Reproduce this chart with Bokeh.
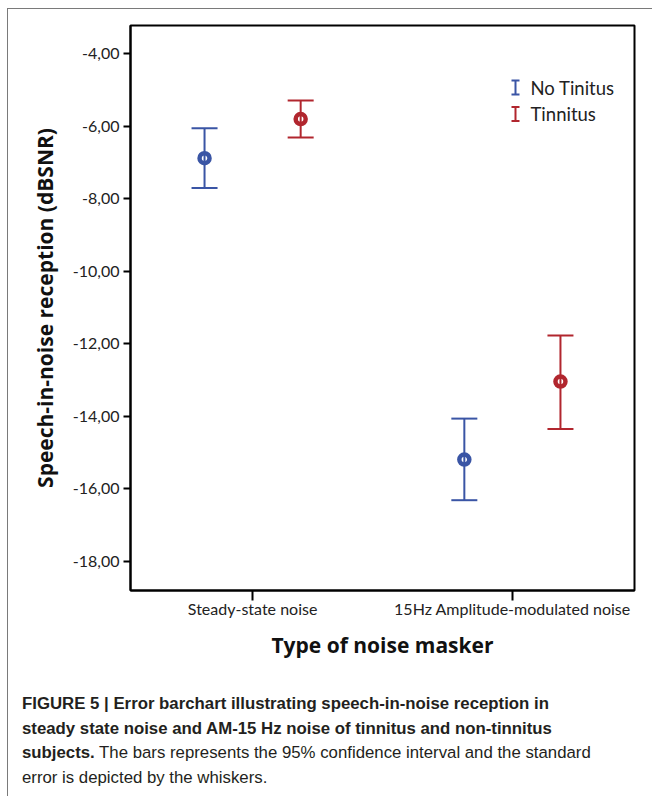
from bokeh.plotting import figure
from bokeh.models import Range1d, FixedTicker, Whisker, TeeHead, ColumnDataSource, Label, Div
from bokeh.layouts import column
from bokeh.embed import file_html
from bokeh.resources import INLINE

# ---------------- data ----------------
categories = ["Steady-state noise", "15Hz Amplitude-modulated noise"]
groups = ["No Tinitus", "Tinnitus"]
colors = ["#3a55a5", "#b1262e"]

no_tinitus_mean = [-6.88, -15.19]
no_tinitus_upper = [-6.05, -14.06]
no_tinitus_lower = [-7.70, -16.31]

tinnitus_mean = [-5.80, -13.04]
tinnitus_upper = [-5.29, -11.77]
tinnitus_lower = [-6.31, -14.35]

y_ticks = [-4, -6, -8, -10, -12, -14, -16, -18]
y_tick_labels = ["-4,00", "-6,00", "-8,00", "-10,00", "-12,00", "-14,00", "-16,00", "-18,00"]

x_title = "Type of noise masker"
y_title = "Speech-in-noise reception (dBSNR)"

caption_bold_lines = [
    "FIGURE 5 | Error barchart illustrating speech-in-noise reception in",
    "steady state noise and AM-15 Hz noise of tinnitus and non-tinnitus",
    "subjects.",
]
caption_rest_lines = [
    " The bars represents the 95% confidence interval and the standard",
    "error is depicted by the whiskers.",
]

# ---------------- figure ----------------
X0, X1 = -0.47, 1.47
Y0, Y1 = -18.8, -3.22
FRAME_W, FRAME_H = 504, 565

p = figure(width=644, height=658, x_range=Range1d(X0, X1), y_range=Range1d(Y0, Y1),
           output_backend="svg", toolbar_location=None,
           min_border_left=122, min_border_right=18, min_border_top=16, min_border_bottom=77)
p.background_fill_color = "white"
p.border_fill_color = "white"
p.outline_line_color = "black"
p.outline_line_width = 2
p.xgrid.grid_line_color = None
p.ygrid.grid_line_color = None

for ax in (p.xaxis[0], p.yaxis[0]):
    ax.axis_line_width = 2
    ax.axis_line_color = "black"
    ax.major_tick_line_color = "black"
    ax.major_tick_line_width = 2
    ax.major_tick_in = 0
    ax.minor_tick_line_color = None
    ax.major_label_text_font = "Lato"
    ax.major_label_text_font_size = "16px"
    ax.major_label_text_color = "#222222"
    ax.axis_label_text_font = "Open Sans"
    ax.axis_label_text_font_style = "bold"
    ax.axis_label_text_font_size = "21px"
    ax.axis_label_text_color = "#111111"

p.yaxis.ticker = FixedTicker(ticks=y_ticks)
p.yaxis.major_label_overrides = {t: l for t, l in zip(y_ticks, y_tick_labels)}
p.yaxis.major_tick_out = 7
p.yaxis.major_label_standoff = 4
p.yaxis.axis_label = y_title
p.yaxis.axis_label_standoff = 11

p.xaxis.ticker = FixedTicker(ticks=list(range(len(categories))))
p.xaxis.major_label_overrides = {i: c for i, c in enumerate(categories)}
p.xaxis.major_tick_out = 10
p.xaxis.major_label_standoff = -2
p.xaxis.axis_label = x_title
p.xaxis.axis_label_standoff = 10

# ---------------- error bars ----------------
means = [no_tinitus_mean, tinnitus_mean]
uppers = [no_tinitus_upper, tinnitus_upper]
lowers = [no_tinitus_lower, tinnitus_lower]
offsets = [-0.185, 0.185]

for g in range(len(groups)):
    xs = [i + offsets[g] for i in range(len(categories))]
    src = ColumnDataSource(dict(x=xs, mean=means[g], upper=uppers[g], lower=lowers[g]))
    w = Whisker(source=src, base="x", upper="upper", lower="lower", dimension="height",
                line_color=colors[g], line_width=2,
                upper_head=TeeHead(size=26, line_color=colors[g], line_width=2),
                lower_head=TeeHead(size=26, line_color=colors[g], line_width=2))
    p.add_layout(w)
    p.scatter("x", "mean", source=src, marker="circle", size=10, fill_color=None,
              line_color=colors[g], line_width=4.5)

# ---------------- legend ----------------
px_x = (X1 - X0) / FRAME_W
px_y = (Y1 - Y0) / FRAME_H
leg_icon_x = X0 + 385 * px_x
leg_text_x = X0 + 400 * px_x
for g in range(len(groups)):
    yc = Y1 - (62 + 26.5 * g) * px_y
    lsrc = ColumnDataSource(dict(x=[leg_icon_x], upper=[yc + 7 * px_y], lower=[yc - 7 * px_y]))
    p.add_layout(Whisker(source=lsrc, base="x", upper="upper", lower="lower", dimension="height",
                         line_color=colors[g], line_width=2,
                         upper_head=TeeHead(size=8, line_color=colors[g], line_width=2),
                         lower_head=TeeHead(size=8, line_color=colors[g], line_width=2)))
    p.add_layout(Label(x=leg_text_x, y=yc, text=groups[g], text_font="Lato",
                       text_font_size="18.5px", text_baseline="middle", text_color="#222222"))

# ---------------- caption ----------------
bold_html = "<br>".join(caption_bold_lines)
rest_html = "<br>".join(caption_rest_lines)
caption_html = (
    '<div style="font-family:\'Liberation Sans Narrow\',\'Liberation Sans\',sans-serif;'
    'font-size:16.8px;line-height:24.5px;color:#231f20;padding:20px 0 0 9px;white-space:nowrap;">'
    f'<b>{bold_html}</b>{rest_html}</div>'
)
div = Div(text=caption_html, width=644, height=128)

layout = column(p, div, styles={"border-top": "1px solid #7a7a7a", "border-left": "1px solid #7a7a7a",
                                "margin-top": "8px", "margin-left": "7px"})

open("out.html", "w").write(file_html(layout, INLINE))
